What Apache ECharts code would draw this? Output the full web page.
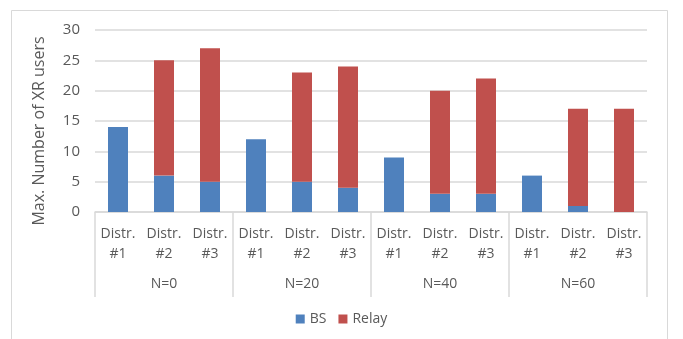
<!DOCTYPE html>
<html>
<head>
<meta charset="utf-8">
<script src="https://cdn.jsdelivr.net/npm/echarts@6/dist/echarts.min.js"></script>
<style>
  html, body { margin: 0; padding: 0; background: #fff; }
  #chart { width: 683px; height: 339px; }
</style>
</head>
<body>
<div id="chart"></div>
<script>
// Inner category labels (distribution) and outer group labels (N)
const distrLabels = ['Distr.\n#1', 'Distr.\n#2', 'Distr.\n#3',
                     'Distr.\n#1', 'Distr.\n#2', 'Distr.\n#3',
                     'Distr.\n#1', 'Distr.\n#2', 'Distr.\n#3',
                     'Distr.\n#1', 'Distr.\n#2', 'Distr.\n#3'];
const groupLabels = ['N=0', 'N=20', 'N=40', 'N=60'];

// Stacked series values
const bsValues    = [14, 6, 5, 12, 5, 4, 9, 3, 3, 6, 1, 0];
const relayValues = [0, 19, 22, 0, 18, 20, 0, 17, 19, 0, 16, 17];

const yTicks = { min: 0, max: 30, interval: 5 };

const textColor = '#595959';
const lineColor = '#d9d9d9';
const font = 'Open Sans, Liberation Sans, sans-serif';

const chart = echarts.init(document.getElementById('chart'), null, { renderer: 'canvas' });

chart.setOption({
  animation: false,
  backgroundColor: '#fff',
  textStyle: { fontFamily: font },
  graphic: [{
    type: 'rect',
    shape: { x: 11.5, y: 10.5, width: 656, height: 340 },
    style: { fill: 'none', stroke: lineColor, lineWidth: 1 },
    silent: true
  }],
  grid: { left: 95, right: 36, top: 30, bottom: 127 },
  legend: {
    bottom: 8,
    left: 'center',
    itemWidth: 9,
    itemHeight: 9,
    itemGap: 12,
    icon: 'rect',
    textStyle: { color: textColor, fontSize: 14, fontFamily: font },
    data: ['BS', 'Relay']
  },
  xAxis: [
    {
      type: 'category',
      data: distrLabels,
      position: 'bottom',
      axisLine: { show: true, lineStyle: { color: lineColor, width: 1.5 } },
      axisTick: { show: false },
      axisLabel: {
        color: textColor, fontSize: 14, fontFamily: font,
        lineHeight: 20, margin: 12, interval: 0
      }
    },
    {
      type: 'category',
      data: groupLabels,
      position: 'bottom',
      axisLine: { show: false },
      axisTick: { show: true, length: 85, lineStyle: { color: lineColor, width: 1.5 } },
      axisLabel: {
        color: textColor, fontSize: 14, fontFamily: font,
        margin: 65, interval: 0
      }
    }
  ],
  yAxis: {
    type: 'value',
    min: yTicks.min,
    max: yTicks.max,
    interval: yTicks.interval,
    name: 'Max. Number of XR users',
    nameLocation: 'middle',
    nameGap: 48,
    nameTextStyle: { color: textColor, fontSize: 16, fontFamily: font, padding: [0, 20, 0, 0] },
    axisLine: { show: false },
    axisTick: { show: false },
    axisLabel: { color: textColor, fontSize: 15, fontFamily: font, margin: 15 },
    splitLine: { lineStyle: { color: lineColor, width: 1.5 } }
  },
  series: [
    {
      name: 'BS',
      type: 'bar',
      stack: 'users',
      xAxisIndex: 0,
      barWidth: 20,
      itemStyle: { color: '#4F81BD' },
      data: bsValues
    },
    {
      name: 'Relay',
      type: 'bar',
      stack: 'users',
      xAxisIndex: 0,
      barWidth: 20,
      itemStyle: { color: '#C0504D' },
      data: relayValues
    }
  ]
});
</script>
</body>
</html>
